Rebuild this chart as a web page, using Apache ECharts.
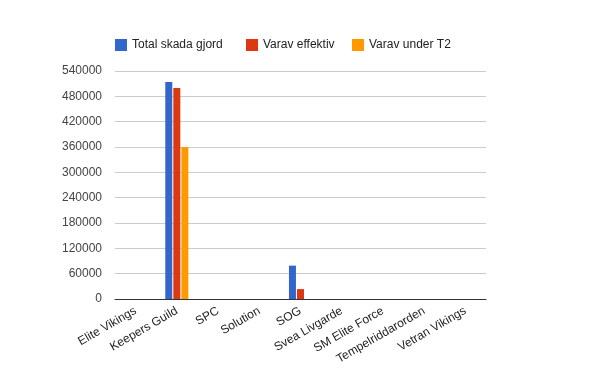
<!DOCTYPE html>
<html><head><meta charset="utf-8">
<script src="https://cdn.jsdelivr.net/npm/echarts@6/dist/echarts.min.js"></script>
<style>html,body{margin:0;padding:0;background:#fff}#c{width:600px;height:371px}</style>
</head><body><div id="c"></div>
<script>
const categories = ["Elite Vikings","Keepers Guild","SPC","Solution","SOG","Svea Livgarde","SM Elite Force","Tempelriddarorden","Vetran Vikings"];
const totalSkada = [0, 514000, 0, 0, 79000, 0, 0, 0, 0];
const varavEffektiv = [0, 500000, 0, 0, 23500, 0, 0, 0, 0];
const varavUnderT2 = [0, 360000, 0, 0, 0, 0, 0, 0, 0];
const seriesNames = ["Total skada gjord","Varav effektiv","Varav under T2"];
const colors = ["#3366cc","#dc3912","#ff9900"];
const chart = echarts.init(document.getElementById('c'), null, {renderer:'canvas'});
const font = 'Arial, "Liberation Sans", sans-serif';
const legendLefts = [115, 246, 352];
chart.setOption({
  animation:false,
  color: colors,
  textStyle:{fontFamily:font},
  legend: seriesNames.map((n,i)=>({
    left:legendLefts[i], top:39, padding:0, itemWidth:12, itemHeight:12,
    icon:'rect', selectedMode:false,
    textStyle:{fontSize:12, color:'#222', fontFamily:font},
    data:[n]
  })),
  grid:{left:115, right:114, top:71, bottom:72, containLabel:false},
  xAxis:{
    type:'category', data:categories,
    axisLine:{lineStyle:{color:'#333', width:1}},
    axisTick:{show:false},
    axisLabel:{rotate:30, fontSize:12, color:'#222', interval:0, margin:11, fontFamily:font}
  },
  yAxis:{
    type:'value', min:0, max:540000, interval:60000,
    axisLine:{show:false}, axisTick:{show:false},
    splitLine:{lineStyle:{color:'#cccccc'}},
    axisLabel:{fontSize:12, color:'#444', margin:13, fontFamily:font, formatter: v => String(v)}
  },
  series:[
    {name:seriesNames[0], type:'bar', data: totalSkada, barWidth:7, barGap:'15%'},
    {name:seriesNames[1], type:'bar', data: varavEffektiv, barWidth:7, barGap:'15%'},
    {name:seriesNames[2], type:'bar', data: varavUnderT2, barWidth:7, barGap:'15%'}
  ]
});
</script></body></html>
